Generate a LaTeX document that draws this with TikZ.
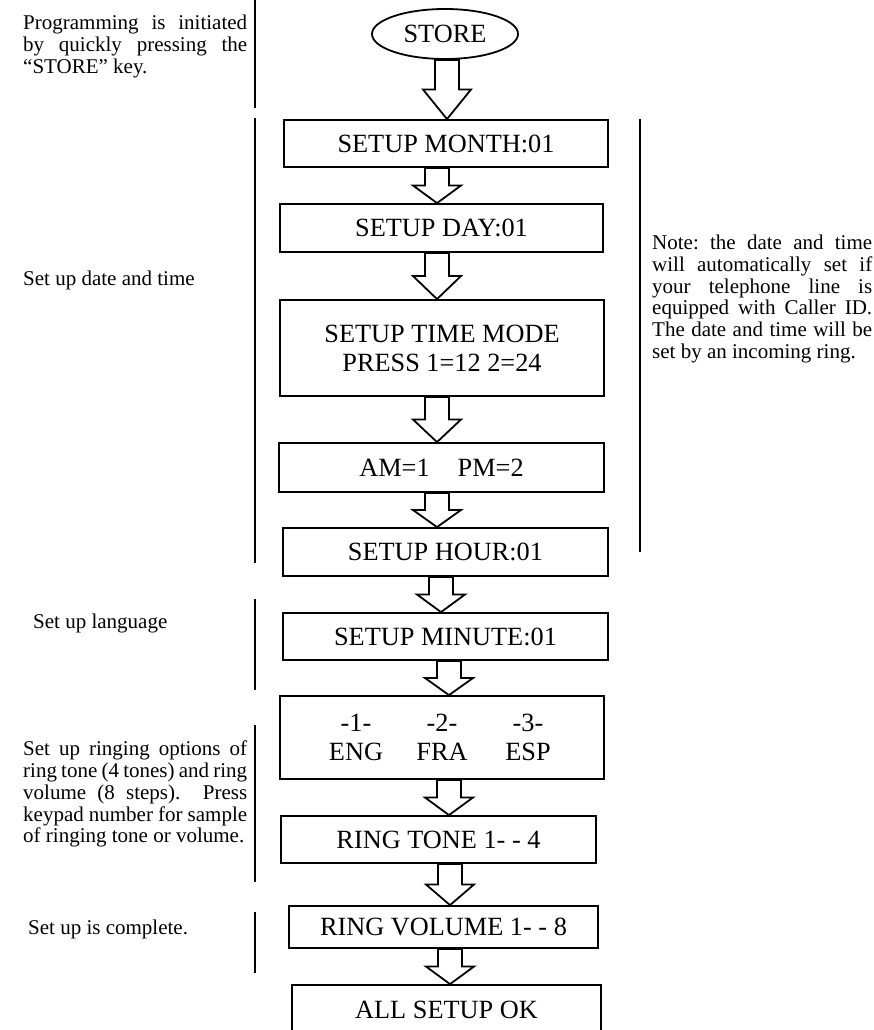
\documentclass[tikz,border=0pt]{standalone}
\usepackage{fontspec}
\setmainfont{Liberation Serif}
\usetikzlibrary{shapes.geometric,calc}
\frenchspacing

\newcommand{\boxfont}{\fontsize{26.3}{29}\selectfont}
\newcommand{\sidefont}{\fontsize{21}{21.8}\selectfont}
\newcommand{\jline}[2]{\makebox[#1][s]{#2}}
\newcommand{\langcol}[1]{\makebox[86pt]{#1}}

\tikzset{
  stepbox/.style={draw, line width=1.8pt, rectangle, inner sep=0pt, font=\boxfont, align=center},
  sidetext/.style={inner sep=0pt, font=\sidefont, align=left},
  blockarrow/.style={draw, fill=white, line width=1.8pt, line join=miter},
  sepline/.style={line width=1.8pt}
}

% hollow block arrow from the bottom of #1 to the top of #2, centred at x=#3
\newcommand{\flowarrow}[3]{%
  \path[blockarrow] let \p1=(#1.south), \p2=(#2.north), \n1={0.5*(\y1+\y2)} in
    (#3-12,\y1) -- (#3+12,\y1) -- (#3+12,\n1) -- (#3+24,\n1) -- (#3,\y2)
    -- (#3-24,\n1) -- (#3-12,\n1) -- cycle;}

\begin{document}
\begin{tikzpicture}[x=1pt,y=1pt]
\useasboundingbox (0,0) rectangle (874,-1030);
\clip (0,0) rectangle (874,-1030);
% Flow boxes
\node[stepbox, ellipse, minimum width=146pt, minimum height=50pt] (store) at (445,-34) {STORE};
\node[stepbox, minimum width=324pt, minimum height=47pt] (month) at (446,-143.5) {SETUP MONTH:01};
\node[stepbox, minimum width=323pt, minimum height=48pt] (day) at (441.5,-228) {SETUP DAY:01};
\node[stepbox, minimum width=324pt, minimum height=96pt] (timemode) at (442,-348) {SETUP TIME MODE\\PRESS 1=12 2=24};
\node[stepbox, minimum width=325pt, minimum height=49pt] (ampm) at (441.5,-467.5) {AM=1\hspace{28pt}PM=2};
\node[stepbox, minimum width=325pt, minimum height=48pt] (hour) at (445.5,-552) {SETUP HOUR:01};
\node[stepbox, minimum width=325pt, minimum height=47pt] (minute) at (445.5,-636.5) {SETUP MINUTE:01};
\node[stepbox, minimum width=324pt, minimum height=83pt] (lang) at (442,-737.5)
  {\langcol{-1-}\langcol{-2-}\langcol{-3-}\\\langcol{ENG}\langcol{FRA}\langcol{ESP}};
\node[stepbox, minimum width=315pt, minimum height=47pt] (tone) at (438.5,-839.5) {RING TONE 1- - 4};
\node[stepbox, minimum width=309pt, minimum height=42pt] (volume) at (443.5,-927) {RING VOLUME 1- - 8};
\node[stepbox, minimum width=309pt, minimum height=49pt] (allok) at (446.5,-1009.5) {ALL SETUP OK};
% Arrows between the boxes
\flowarrow{store}{month}{447}
\flowarrow{month}{day}{437}
\flowarrow{day}{timemode}{437}
\flowarrow{timemode}{ampm}{437}
\flowarrow{ampm}{hour}{437}
\flowarrow{hour}{minute}{441}
\flowarrow{minute}{lang}{449}
\flowarrow{lang}{tone}{449}
\flowarrow{tone}{volume}{450}
\flowarrow{volume}{allok}{450}
% Separator bars
\foreach \ya/\yb in {0/108,118/563,599/690,725/882,912/973} {
  \draw[sepline] (255,-\ya) -- (255,-\yb);
}
\draw[sepline] (640,-119) -- (640,-552);
% Side notes
\node[sidetext, anchor=north west] (hintstore) at (23,-14.7)
  {\jline{224pt}{Programming is initiated}\\\jline{224pt}{by quickly pressing the}\\“STORE” key.};
\node[sidetext, anchor=base west] (hintdate) at (23,-285) {Set up date and time};
\node[sidetext, anchor=base west] (hintlang) at (33,-628) {Set up language};
\node[sidetext, anchor=north west] (hintring) at (23,-740.7)
  {\jline{224pt}{Set up ringing options of}\\\jline{224pt}{ring tone (4 tones) and ring}\\
   \jline{224pt}{volume (8 steps).\ \ Press}\\\jline{224pt}{keypad number for sample}\\
   of ringing tone or volume.};
\node[sidetext, anchor=base west] (hintdone) at (28,-934) {Set up is complete.};
\node[sidetext, anchor=north west] (hintcid) at (652,-234.7)
  {\jline{220pt}{Note: the date and time}\\\jline{220pt}{will automatically set if}\\
   \jline{220pt}{your telephone line is}\\\jline{220pt}{equipped with Caller ID.}\\
   \jline{220pt}{The date and time will be}\\set by an incoming ring.};
\end{tikzpicture}
\end{document}
